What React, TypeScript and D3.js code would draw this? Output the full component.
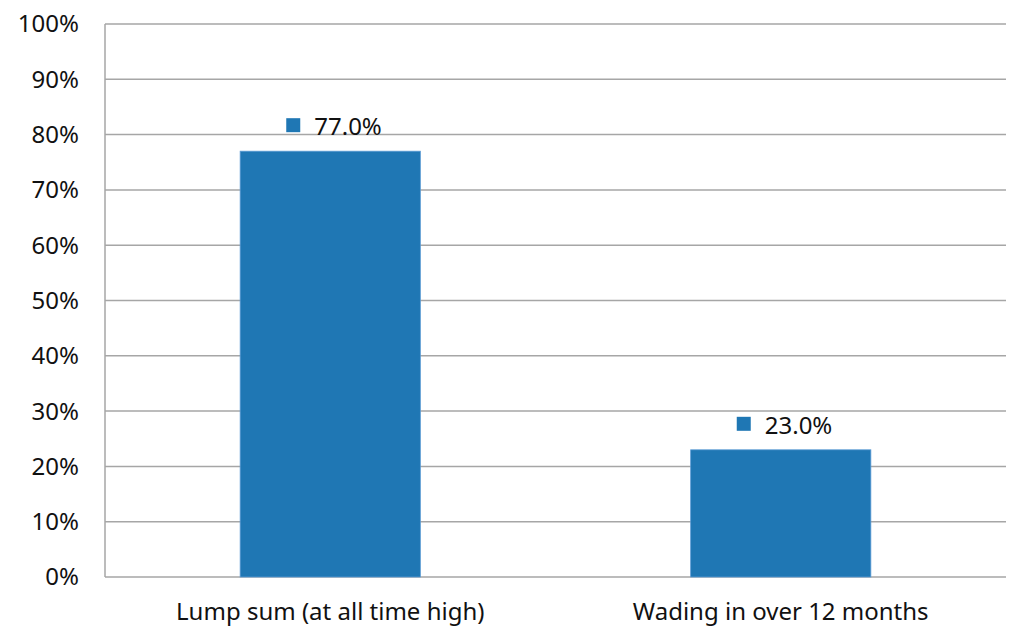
import { useEffect, useRef } from 'react';
import * as d3 from 'd3';

const categories = ['Lump sum (at all time high)', 'Wading in over 12 months'];
const values = [0.77, 0.23];
const yTicks = [0, 0.1, 0.2, 0.3, 0.4, 0.5, 0.6, 0.7, 0.8, 0.9, 1.0];

export default function App() {
  const svgRef = useRef<SVGSVGElement>(null);

  useEffect(() => {
    if (!svgRef.current) return;
    const svg = d3.select(svgRef.current);
    svg.selectAll('*').remove();

    const W = 1024;
    const H = 638;
    const margin = { top: 24, right: 18, bottom: 61, left: 105 };
    const width = W - margin.left - margin.right;
    const height = H - margin.top - margin.bottom;
    const font = '"Noto Sans", "Open Sans", sans-serif';
    const barColor = '#1f77b4';
    const gridColor = '#a6a6a6';

    svg.attr('width', W).attr('height', H);

    const g = svg.append('g').attr('transform', `translate(${margin.left},${margin.top})`);

    const x = d3.scaleBand<string>()
      .domain(categories)
      .range([0, width])
      .paddingInner(0.6)
      .paddingOuter(0.3);

    const y = d3.scaleLinear().domain([0, 1]).range([height, 0]);

    // Grid lines
    g.append('g')
      .selectAll('line')
      .data(yTicks)
      .enter()
      .append('line')
      .attr('x1', 0)
      .attr('x2', width)
      .attr('y1', d => y(d))
      .attr('y2', d => y(d))
      .attr('stroke', gridColor)
      .attr('stroke-width', 1.5);

    // Left axis line
    g.append('line')
      .attr('x1', 0)
      .attr('x2', 0)
      .attr('y1', y(1))
      .attr('y2', y(0))
      .attr('stroke', gridColor)
      .attr('stroke-width', 1.5);

    // Y tick labels
    g.append('g')
      .selectAll('text')
      .data(yTicks)
      .enter()
      .append('text')
      .attr('x', -26)
      .attr('y', d => y(d))
      .attr('dy', '0.35em')
      .attr('text-anchor', 'end')
      .attr('font-family', font)
      .attr('font-size', '24px')
      .attr('fill', '#111')
      .text(d => d3.format('.0%')(d));

    // Bars
    g.selectAll('.bar')
      .data(values)
      .enter()
      .append('rect')
      .attr('class', 'bar')
      .attr('x', (_, i) => x(categories[i]) || 0)
      .attr('width', x.bandwidth())
      .attr('y', d => y(d))
      .attr('height', d => y(0) - y(d))
      .attr('fill', barColor)
      .attr('stroke', '#5b9bd5')
      .attr('stroke-width', 0.8);

    // Data labels with marker
    values.forEach((v, i) => {
      const cx = (x(categories[i]) || 0) + x.bandwidth() / 2 + 4;
      const lbl = g.append('g').attr('transform', `translate(${cx},${y(v) - 16})`);
      lbl.append('rect')
        .attr('x', -48)
        .attr('y', -17)
        .attr('width', 14)
        .attr('height', 14)
        .attr('fill', barColor);
      lbl.append('text')
        .attr('x', -20)
        .attr('y', 0)
        .attr('font-family', font)
        .attr('font-size', '24px')
        .attr('fill', '#111')
        .text(d3.format('.1%')(v));
    });

    // Category labels
    g.append('g')
      .selectAll('text')
      .data(categories)
      .enter()
      .append('text')
      .attr('x', d => (x(d) || 0) + x.bandwidth() / 2)
      .attr('y', height + 43)
      .attr('text-anchor', 'middle')
      .attr('font-family', font)
      .attr('font-size', '24px')
      .attr('fill', '#111')
      .text(d => d);
  }, []);

  return (
    <div style={{ position: 'absolute', left: 0, top: 0, background: '#fff' }}>
      <svg ref={svgRef} />
    </div>
  );
}
